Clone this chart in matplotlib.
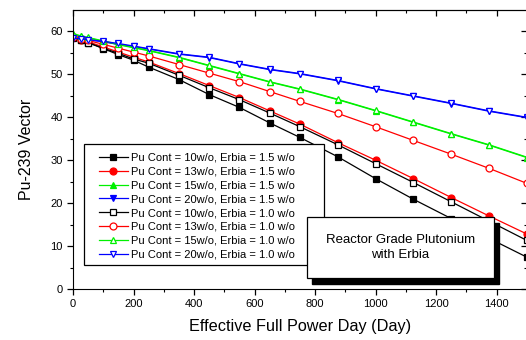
import numpy as np
import matplotlib
matplotlib.use('Agg')
import matplotlib.pyplot as plt
from matplotlib.patches import Rectangle

plt.rcParams['font.family'] = ['Liberation Sans', 'DejaVu Sans']

days = [0, 25, 50, 100, 150, 200, 250, 350, 450, 550, 650, 750, 875, 1000, 1125, 1250, 1375, 1500]

# Erbia = 1.5 w/o
pu10_e15 = [58.6, 58.0, 57.4, 56.0, 54.6, 53.3, 51.7, 48.8, 45.3, 42.3, 38.7, 35.3, 30.8, 25.7, 20.9, 16.4, 11.8, 7.4]
pu13_e15 = [58.6, 58.1, 57.6, 56.4, 55.2, 54.0, 52.9, 50.2, 47.4, 44.6, 41.5, 38.4, 34.1, 30.0, 25.7, 21.3, 17.0, 12.8]
pu15_e15 = [59.4, 58.9, 58.5, 57.7, 56.9, 56.2, 55.5, 53.9, 52.0, 50.1, 48.2, 46.5, 44.1, 41.5, 38.8, 36.1, 33.5, 30.6]
pu20_e15 = [58.3, 58.2, 58.0, 57.6, 57.0, 56.5, 55.9, 54.7, 53.9, 52.4, 51.1, 50.1, 48.5, 46.6, 44.9, 43.2, 41.4, 39.9]
# Erbia = 1.0 w/o
pu10_e10 = [58.5, 58.0, 57.4, 56.1, 54.9, 53.6, 52.6, 49.8, 46.9, 44.1, 41.0, 37.8, 33.6, 29.2, 24.8, 20.3, 15.8, 11.3]
pu13_e10 = [58.7, 58.3, 57.9, 57.0, 56.1, 55.2, 54.3, 52.3, 50.3, 48.3, 46.0, 43.7, 40.9, 37.8, 34.6, 31.4, 28.1, 24.6]
pu15_e10 = [59.5, 59.0, 58.6, 57.8, 57.0, 56.3, 55.6, 54.0, 52.1, 50.2, 48.3, 46.6, 44.2, 41.6, 38.9, 36.2, 33.6, 30.7]
pu20_e10 = [58.4, 58.3, 58.1, 57.7, 57.2, 56.6, 56.0, 54.8, 54.0, 52.5, 51.2, 50.2, 48.6, 46.7, 45.0, 43.3, 41.5, 40.0]

labels = ["Pu Cont = 10w/o, Erbia = 1.5 w/o",
          "Pu Cont = 13w/o, Erbia = 1.5 w/o",
          "Pu Cont = 15w/o, Erbia = 1.5 w/o",
          "Pu Cont = 20w/o, Erbia = 1.5 w/o",
          "Pu Cont = 10w/o, Erbia = 1.0 w/o",
          "Pu Cont = 13w/o, Erbia = 1.0 w/o",
          "Pu Cont = 15w/o, Erbia = 1.0 w/o",
          "Pu Cont = 20w/o, Erbia = 1.0 w/o"]

series = [pu10_e15, pu13_e15, pu15_e15, pu20_e15, pu10_e10, pu13_e10, pu15_e10, pu20_e10]
colors = ['black', 'red', '#00f000', 'blue', 'black', 'red', '#00f000', 'blue']
markers = ['s', 'o', '^', 'v', 's', 'o', '^', 'v']

W, H = 526, 340
fig = plt.figure(figsize=(W/100, H/100), dpi=100)
ax = fig.add_axes([73/W, 51/H, 454/W, 279/H])

for i, (y, c, m, lab) in enumerate(zip(series, colors, markers, labels)):
    filled = i < 4
    ax.plot(days, y, color=c, marker=m, markersize=5, linewidth=0.9,
            markerfacecolor=c if filled else 'white', markeredgecolor=c,
            markeredgewidth=0.9, label=lab)

ax.set_xlim(0, 1500)
ax.set_ylim(0, 65)
xmaj = np.arange(0, 1401, 200)
xmin = np.arange(100, 1500, 100)
ymaj = np.arange(0, 61, 10)
ymin = np.arange(5, 65, 5)
ax.set_xticks(xmaj)
ax.set_xticks(xmin, minor=True)
ax.set_yticks(ymaj)
ax.set_yticks(ymin, minor=True)
ax.tick_params(axis='both', which='major', labelsize=8, length=4, width=0.9, direction='out')
ax.tick_params(axis='both', which='minor', length=2.5, width=0.8, direction='out')

# top / right ticks point inward
secx = ax.secondary_xaxis('top')
secx.set_xticks(xmaj)
secx.set_xticks(xmin, minor=True)
secx.tick_params(which='major', direction='in', length=4, width=0.9, labeltop=False)
secx.tick_params(which='minor', direction='in', length=2.5, width=0.8)
secy = ax.secondary_yaxis('right')
secy.set_yticks(ymaj)
secy.set_yticks(ymin, minor=True)
secy.tick_params(which='major', direction='in', length=4, width=0.9, labelright=False)
secy.tick_params(which='minor', direction='in', length=2.5, width=0.8)

ax.set_xlabel('Effective Full Power Day (Day)', fontsize=11.7, labelpad=7)
ax.set_ylabel('Pu-239 Vector', fontsize=11.5, labelpad=12)

# legend frame drawn by hand (right edge goes under the text box)
ax.add_patch(Rectangle((84/W, (H-265)/H), 240/W, 121/H, transform=fig.transFigure,
                       facecolor='white', edgecolor='black', linewidth=0.9,
                       zorder=4.5, clip_on=False))
leg = ax.legend(loc='upper left', fontsize=8, frameon=False, handlelength=2.6,
                handletextpad=0.3, labelspacing=0.34, borderpad=0, borderaxespad=0,
                bbox_to_anchor=(99/W, (H-153)/H), bbox_transform=fig.transFigure)

# text box with shadow
bx, by, bw, bh = 307/W, (H-278)/H, 187/W, 61/H
fig.patches.append(Rectangle((bx + 5/W, by - 6/H), bw, bh, transform=fig.transFigure,
                             facecolor='black', edgecolor='black', zorder=5))
fig.patches.append(Rectangle((bx, by), bw, bh, transform=fig.transFigure,
                             facecolor='white', edgecolor='black', linewidth=0.9, zorder=6))
fig.text(bx + bw/2, by + bh/2, 'Reactor Grade Plutonium\nwith Erbia', ha='center', va='center',
         fontsize=9.5, linespacing=1.35, zorder=7)

fig.savefig('out.png', dpi=100)
